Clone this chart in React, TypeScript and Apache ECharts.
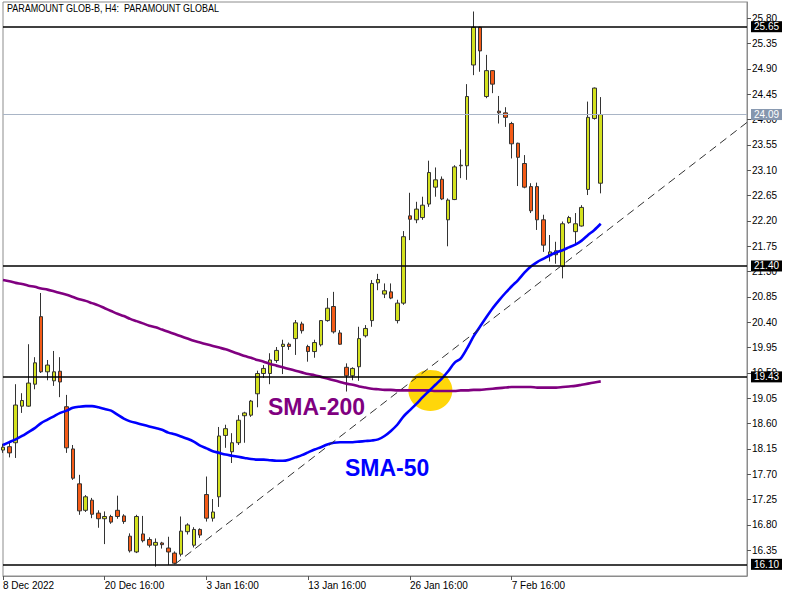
import { useEffect, useRef } from "react";
import * as echarts from "echarts";

const FONT = '"Liberation Sans", Arial, sans-serif';

// 118 bar slots (95 bars drawn + empty space on the right)
const categories: string[] = Array.from({ length: 118 }, (_, i) => `B${i}`);

const xTickIdx = [0, 16, 32, 48, 64, 80];
const xTickLabels = ["8 Dec 2022", "20 Dec 16:00", "3 Jan 16:00", "13 Jan 16:00", "26 Jan 16:00", "7 Feb 16:00"];

const yTicks = [16.35, 16.8, 17.25, 17.7, 18.15, 18.6, 19.05, 19.5, 19.95, 20.4, 20.85, 21.3, 21.75, 22.2, 22.65, 23.1, 23.55, 24.0, 24.45, 24.9, 25.35, 25.8];

// [open, close, low, high]
const ohlc: number[][] = [
  [18.13, 18.18, 18.08, 18.24], [18.19, 18.08, 18.0, 18.26], [18.26, 18.93, 17.99, 19.3], [18.91, 19.01, 18.79, 19.14],
  [18.91, 19.32, 18.9, 20.01], [19.3, 19.68, 19.21, 19.78], [20.5, 19.52, 19.5, 20.92], [19.52, 19.64, 19.37, 19.73],
  [19.36, 19.52, 19.27, 19.89], [19.53, 19.34, 19.07, 19.78], [18.9, 18.17, 18.08, 19.11], [18.15, 17.63, 17.6, 18.22],
  [17.53, 17.05, 16.98, 17.69], [17.06, 17.3, 17.03, 17.33], [17.24, 16.99, 16.92, 17.28], [17.01, 16.91, 16.75, 17.06],
  [16.91, 16.95, 16.46, 17.04], [16.95, 16.85, 16.82, 16.98], [17.06, 16.95, 16.91, 17.32], [16.96, 16.86, 16.82, 16.99],
  [16.6, 16.34, 16.31, 16.65], [16.32, 16.95, 16.3, 16.98], [16.64, 16.52, 16.49, 16.96], [16.54, 16.44, 16.4, 16.58],
  [16.44, 16.49, 16.06, 16.56], [16.48, 16.45, 16.38, 16.5], [16.39, 16.32, 16.09, 16.59], [16.3, 16.12, 16.1, 16.33],
  [16.28, 16.69, 16.24, 16.95], [16.68, 16.8, 16.63, 16.83], [16.44, 16.72, 16.4, 16.76], [16.72, 16.62, 16.57, 16.74],
  [17.34, 16.92, 16.86, 17.66], [16.92, 17.03, 16.86, 17.26], [17.3, 18.38, 17.12, 18.54], [18.39, 18.51, 18.17, 18.58],
  [18.1, 18.26, 17.9, 18.43], [18.26, 18.66, 18.22, 18.75], [18.74, 18.79, 18.26, 18.81], [18.75, 19.0, 18.72, 19.02],
  [19.13, 19.49, 18.89, 19.54], [19.49, 19.58, 19.41, 19.64], [19.49, 19.73, 19.3, 19.85], [19.72, 19.9, 19.68, 19.96],
  [19.97, 20.01, 19.48, 20.09], [20.01, 19.97, 19.91, 20.04], [20.11, 20.39, 19.82, 20.44], [20.37, 20.25, 20.2, 20.41],
  [19.97, 19.88, 19.7, 20.0], [19.88, 20.04, 19.77, 20.09], [20.0, 20.43, 19.97, 20.44], [20.43, 20.65, 20.41, 20.83],
  [20.68, 20.23, 20.2, 20.94], [20.21, 20.01, 20.0, 20.26], [19.6, 19.45, 19.17, 19.67], [19.45, 19.58, 19.37, 19.6],
  [19.61, 20.11, 19.36, 20.32], [20.16, 20.29, 20.13, 20.35], [20.43, 21.09, 20.32, 21.15], [21.1, 21.16, 20.97, 21.26],
  [20.9, 20.96, 20.83, 21.09], [20.94, 20.83, 20.81, 21.09], [20.43, 20.74, 20.38, 20.8], [20.74, 21.92, 20.71, 22.02],
  [22.29, 22.23, 21.86, 22.7], [22.22, 22.41, 22.16, 22.54], [22.26, 22.48, 22.22, 22.63], [22.5, 23.06, 22.45, 23.27],
  [22.8, 22.93, 22.63, 23.15], [22.94, 22.59, 22.57, 22.99], [22.22, 22.57, 21.75, 22.6], [22.58, 23.16, 22.57, 23.19],
  [23.18, 23.19, 22.96, 23.47], [23.18, 24.41, 22.93, 24.63], [24.97, 25.64, 24.79, 25.92], [25.64, 25.22, 24.85, 25.65],
  [24.41, 24.87, 24.38, 25.15], [24.87, 24.63, 24.47, 24.88], [24.15, 24.12, 23.93, 24.42], [24.12, 24.04, 23.87, 24.22],
  [23.93, 23.57, 23.31, 23.96], [23.58, 23.33, 22.82, 23.59], [23.22, 22.8, 22.78, 23.37], [22.81, 22.38, 22.34, 22.87],
  [22.81, 22.22, 22.04, 22.88], [22.22, 21.77, 21.65, 22.31], [21.58, 21.65, 21.48, 21.95], [21.6, 21.67, 21.44, 21.83],
  [21.39, 22.15, 21.18, 22.19], [22.17, 22.26, 22.15, 22.29], [22.01, 22.15, 21.77, 22.34], [22.11, 22.44, 22.1, 22.48],
  [22.76, 24.04, 22.66, 24.32], [24.02, 24.56, 24.0, 24.57], [22.87, 24.09, 22.69, 24.4],
];

const sma200: number[] = [
  21.15, 21.13, 21.1, 21.08, 21.05, 21.03, 21.0, 20.98, 20.95, 20.92, 20.89, 20.85, 20.81, 20.78, 20.74, 20.7,
  20.65, 20.6, 20.55, 20.51, 20.46, 20.42, 20.38, 20.34, 20.31, 20.27, 20.23, 20.19, 20.15, 20.11, 20.07, 20.04,
  20.01, 19.98, 19.95, 19.92, 19.88, 19.84, 19.8, 19.77, 19.73, 19.7, 19.66, 19.63, 19.6, 19.57, 19.54, 19.51,
  19.48, 19.46, 19.43, 19.4, 19.37, 19.34, 19.31, 19.29, 19.26, 19.24, 19.22, 19.21, 19.2, 19.2, 19.19, 19.19,
  19.19, 19.19, 19.19, 19.19, 19.18, 19.18, 19.18, 19.18, 19.19, 19.19, 19.2, 19.2, 19.21, 19.22, 19.23, 19.24,
  19.25, 19.25, 19.25, 19.25, 19.24, 19.24, 19.24, 19.24, 19.25, 19.26, 19.27, 19.29, 19.31, 19.33, 19.35,
];

const sma50: number[] = [
  18.22, 18.27, 18.32, 18.38, 18.45, 18.52, 18.61, 18.67, 18.73, 18.79, 18.83, 18.88, 18.9, 18.91, 18.91, 18.89,
  18.86, 18.83, 18.76, 18.69, 18.64, 18.61, 18.58, 18.55, 18.52, 18.49, 18.44, 18.41, 18.37, 18.33, 18.28, 18.21,
  18.16, 18.11, 18.08, 18.05, 18.03, 18.01, 17.99, 17.97, 17.96, 17.96, 17.95, 17.94, 17.94, 17.96, 18.0, 18.04,
  18.09, 18.14, 18.18, 18.23, 18.26, 18.27, 18.27, 18.27, 18.28, 18.29, 18.3, 18.32, 18.38, 18.47, 18.58, 18.73,
  18.84, 18.95, 19.07, 19.18, 19.29, 19.4, 19.53, 19.68, 19.76, 19.94, 20.15, 20.32, 20.49, 20.65, 20.79, 20.92,
  21.04, 21.15, 21.28, 21.39, 21.47, 21.53, 21.59, 21.64, 21.68, 21.73, 21.78, 21.85, 21.95, 22.04, 22.15,
];

const levels = [25.65, 21.4, 19.43, 16.1];
const lastPrice = 24.09;
const trendStart = [27, 16.1];
const trendEnd = [117, 23.95];
const crossPoint = [67, 19.19];

const title = "PARAMOUNT GLOB-B, H4:  PARAMOUNT GLOBAL";

export default function App() {
  const ref = useRef<HTMLDivElement>(null);
  useEffect(() => {
    const chart = echarts.init(ref.current!, null, { renderer: "svg" });
    const levelLabel = (bg: string) => ({
      show: true,
      position: "end",
      distance: 4,
      formatter: (p: any) => Number(p.value).toFixed(2),
      color: "#fff",
      backgroundColor: bg,
      fontFamily: FONT,
      fontSize: 10,
      lineHeight: 11,
      padding: [0, 3, 0, 3],
    });
    const option: any = {
      animation: false,
      backgroundColor: "#fff",
      grid: { left: 2, right: 46, top: 2, bottom: 19, show: true, borderColor: "#8c8c8c", borderWidth: 1 },
      xAxis: {
        type: "category",
        data: categories,
        boundaryGap: false,
        axisLine: { show: true, lineStyle: { color: "#8c8c8c", width: 1 } },
        axisTick: { show: true, interval: (i: number) => xTickIdx.includes(i), length: 4, lineStyle: { color: "#555" } },
        axisLabel: {
          show: true,
          interval: (i: number) => xTickIdx.includes(i),
          formatter: (_v: string, i: number) => {
            const k = xTickIdx.indexOf(i);
            return k >= 0 ? xTickLabels[k] : "";
          },
          align: "left",
          fontSize: 10,
          fontFamily: FONT,
          color: "#000",
          margin: 4,
          hideOverlap: false,
        },
        splitLine: { show: false },
      },
      yAxis: {
        type: "value",
        position: "right",
        min: 15.893,
        max: 26.089,
        splitLine: { show: false },
        axisLine: { show: true, lineStyle: { color: "#8c8c8c", width: 1 } },
        axisTick: { show: true, customValues: yTicks, length: 4, lineStyle: { color: "#555" } },
        axisLabel: {
          show: true,
          customValues: yTicks,
          formatter: (v: number) => v.toFixed(2),
          fontSize: 10,
          fontFamily: FONT,
          color: "#000",
          margin: 5,
        },
      },
      series: [
        {
          type: "candlestick",
          data: ohlc,
          barWidth: 4,
          clip: true,
          z: 2,
          itemStyle: {
            color: "#d3e11e",
            color0: "#f45b17",
            borderColor: "#333",
            borderColor0: "#333",
            borderWidth: 1,
          },
          markLine: {
            silent: true,
            symbol: ["none", "none"],
            data: [
              ...levels.map((v) => ({
                yAxis: v,
                lineStyle: { color: "#000", width: 1.6, type: "solid" },
                label: levelLabel("#000"),
              })),
              {
                yAxis: lastPrice,
                lineStyle: { color: "#a9b5c6", width: 1, type: "solid" },
                label: levelLabel("#8596ae"),
              },
              [
                { coord: trendStart, lineStyle: { color: "#333", width: 1, type: [8, 5] }, label: { show: false } },
                { coord: trendEnd },
              ],
            ],
          },
        },
        {
          name: "SMA-200",
          type: "line",
          data: sma200,
          showSymbol: false,
          smooth: 0.3,
          z: 3,
          lineStyle: { color: "#800080", width: 2.6 },
          markPoint: {
            z: 1,
            silent: true,
            symbol: "circle",
            symbolSize: [44, 41],
            itemStyle: { color: "#ffd60a" },
            label: { show: false },
            data: [{ coord: crossPoint, symbolOffset: [1.3, 0] }],
          },
        },
        {
          name: "SMA-50",
          type: "line",
          data: sma50,
          showSymbol: false,
          smooth: 0.3,
          z: 3,
          lineStyle: { color: "#0000ff", width: 2.6 },
        },
      ],
      graphic: [
        {
          type: "text",
          x: 7,
          y: 8.5,
          scaleX: 0.9,
          style: { text: title, fill: "#000", font: `10px ${FONT}`, verticalAlign: "middle" },
          z: 10,
        },
        {
          type: "text",
          x: 268,
          y: 407,
          style: { text: "SMA-200", fill: "#800080", font: `bold 23px ${FONT}`, verticalAlign: "middle" },
          z: 10,
        },
        {
          type: "text",
          x: 345,
          y: 468,
          style: { text: "SMA-50", fill: "#0000ff", font: `bold 23px ${FONT}`, verticalAlign: "middle" },
          z: 10,
        },
      ],
    };
    chart.setOption(option);
    return () => chart.dispose();
  }, []);
  return (
    <div
      ref={ref}
      style={{ position: "fixed", left: 0, top: 0, width: 793, height: 595, background: "#fff" }}
    />
  );
}
